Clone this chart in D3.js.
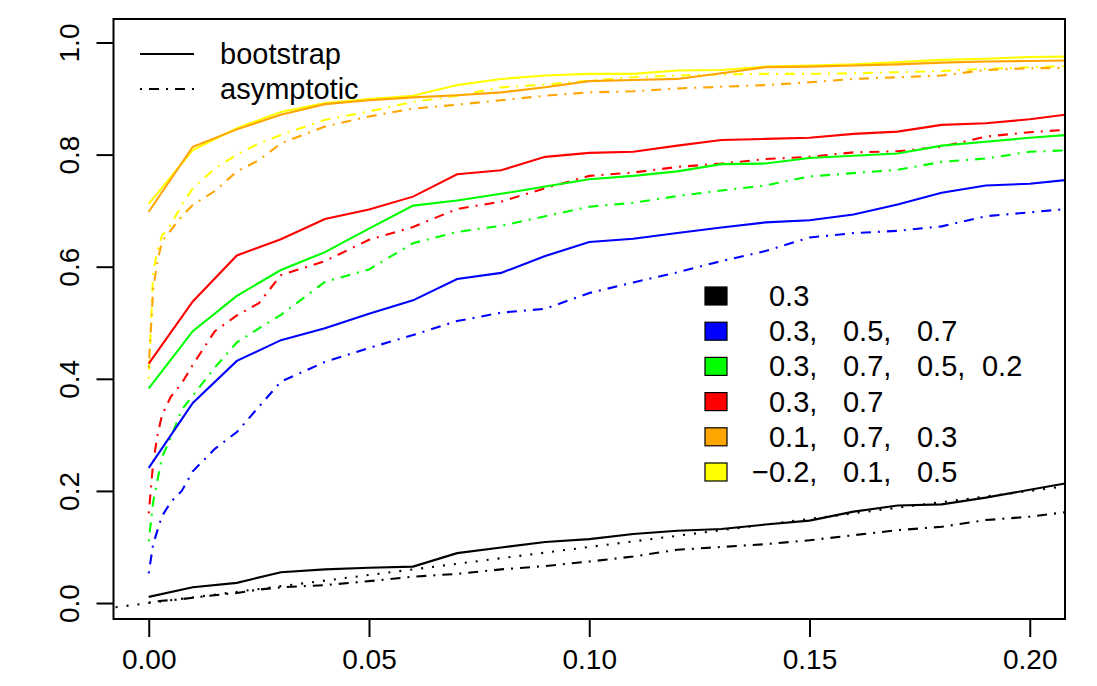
<!DOCTYPE html>
<html>
<head>
<meta charset="utf-8">
<script src="https://cdn.jsdelivr.net/npm/d3@7"></script>
<style>
  body { margin: 0; background: #fff; }
  text { font-family: "Liberation Sans", Arial, Helvetica, sans-serif; }
</style>
</head>
<body>
<div id="chart"></div>
<script>
// x grid for the bootstrap curves
const bootX = [0, 0.01, 0.02, 0.03, 0.04, 0.05, 0.06, 0.07, 0.08, 0.09, 0.10,
  0.11, 0.12, 0.13, 0.14, 0.15, 0.16, 0.17, 0.18, 0.19, 0.20, 0.21];
// finer grid for the asymptotic curves
const asymX = [0, 0.001, 0.002, 0.003, 0.005, 0.0075, 0.01, 0.015, 0.02, 0.025, 0.03,
  0.04, 0.05, 0.06, 0.07, 0.08, 0.09, 0.10, 0.11, 0.12, 0.13, 0.14, 0.15,
  0.16, 0.17, 0.18, 0.19, 0.20, 0.21];

const blackBoot  = [0.011, 0.028, 0.036, 0.055, 0.060, 0.063, 0.065, 0.089, 0.099, 0.109, 0.114, 0.123, 0.129, 0.132, 0.140, 0.147, 0.163, 0.174, 0.176, 0.188, 0.202, 0.216];
const blueBoot   = [0.241, 0.357, 0.432, 0.469, 0.490, 0.516, 0.540, 0.578, 0.589, 0.619, 0.644, 0.650, 0.660, 0.670, 0.679, 0.683, 0.693, 0.711, 0.732, 0.745, 0.748, 0.756];
const greenBoot  = [0.383, 0.485, 0.548, 0.594, 0.626, 0.668, 0.709, 0.718, 0.730, 0.743, 0.756, 0.762, 0.770, 0.783, 0.784, 0.794, 0.798, 0.802, 0.816, 0.823, 0.830, 0.836];
const redBoot    = [0.427, 0.538, 0.620, 0.649, 0.685, 0.702, 0.725, 0.765, 0.772, 0.796, 0.803, 0.805, 0.816, 0.826, 0.828, 0.830, 0.837, 0.841, 0.853, 0.856, 0.863, 0.873];
const orangeBoot = [0.698, 0.814, 0.845, 0.871, 0.890, 0.897, 0.902, 0.906, 0.911, 0.920, 0.931, 0.933, 0.935, 0.945, 0.956, 0.957, 0.959, 0.961, 0.964, 0.966, 0.967, 0.968];
const yellowBoot = [0.712, 0.808, 0.847, 0.876, 0.892, 0.899, 0.905, 0.924, 0.935, 0.941, 0.944, 0.944, 0.950, 0.951, 0.957, 0.959, 0.961, 0.965, 0.969, 0.971, 0.974, 0.975];

const blackAsym  = [0.001, 0.002, 0.003, 0.004, 0.005, 0.007, 0.0095, 0.014, 0.018, 0.024, 0.028, 0.032, 0.039, 0.047, 0.052, 0.060, 0.066, 0.074, 0.083, 0.095, 0.100, 0.105, 0.112, 0.121, 0.130, 0.136, 0.148, 0.154, 0.164];
const blueAsym   = [0.053, 0.105, 0.130, 0.155, 0.180, 0.200, 0.235, 0.275, 0.305, 0.350, 0.395, 0.430, 0.455, 0.478, 0.503, 0.518, 0.525, 0.553, 0.572, 0.590, 0.610, 0.628, 0.652, 0.660, 0.664, 0.672, 0.690, 0.697, 0.704];
const greenAsym  = [0.110, 0.180, 0.220, 0.260, 0.295, 0.345, 0.370, 0.420, 0.465, 0.490, 0.514, 0.573, 0.595, 0.642, 0.662, 0.673, 0.690, 0.707, 0.714, 0.726, 0.736, 0.745, 0.761, 0.767, 0.773, 0.787, 0.793, 0.805, 0.808];
const redAsym    = [0.160, 0.250, 0.300, 0.335, 0.368, 0.392, 0.425, 0.485, 0.513, 0.535, 0.585, 0.610, 0.648, 0.671, 0.703, 0.716, 0.740, 0.762, 0.768, 0.778, 0.784, 0.792, 0.796, 0.804, 0.806, 0.814, 0.832, 0.840, 0.845];
const orangeAsym = [0.420, 0.560, 0.610, 0.645, 0.665, 0.690, 0.710, 0.735, 0.770, 0.790, 0.820, 0.850, 0.868, 0.882, 0.889, 0.897, 0.905, 0.911, 0.913, 0.918, 0.921, 0.924, 0.929, 0.935, 0.938, 0.941, 0.951, 0.954, 0.955];
const yellowAsym = [0.400, 0.590, 0.630, 0.655, 0.675, 0.710, 0.740, 0.775, 0.800, 0.820, 0.835, 0.862, 0.877, 0.894, 0.905, 0.920, 0.925, 0.932, 0.938, 0.941, 0.943, 0.944, 0.944, 0.945, 0.947, 0.949, 0.953, 0.956, 0.958];

// reference line y = x (dotted)
const refX = [-0.01, 0.21];

const seriesColors = ["black", "blue", "#00ff00", "red", "orange", "yellow"];
const seriesLabels = [["0.3"], ["0.3", "0.5", "0.7"], ["0.3", "0.7", "0.5", "0.2"],
  ["0.3", "0.7"], ["0.1", "0.7", "0.3"], ["\u22120.2", "0.1", "0.5"]];
const bootSeries = [blackBoot, blueBoot, greenBoot, redBoot, orangeBoot, yellowBoot];
const asymSeries = [blackAsym, blueAsym, greenAsym, redAsym, orangeAsym, yellowAsym];

const xTicks = [0, 0.05, 0.10, 0.15, 0.20];
const yTicks = [0, 0.2, 0.4, 0.6, 0.8, 1.0];

const W = 1097, H = 686;
const box = {left: 113.5, top: 19, right: 1065, bottom: 619};
const fs = 28, legFs = 29;

const svg = d3.select("#chart").append("svg")
  .attr("width", W).attr("height", H);

const x = d3.scaleLinear().domain([-0.008, 0.208]).range([box.left, box.right]);
const y = d3.scaleLinear().domain([-0.0285, 1.0419]).range([box.bottom, box.top]);

svg.append("clipPath").attr("id", "plotclip")
  .append("rect")
    .attr("x", box.left).attr("y", box.top)
    .attr("width", box.right - box.left).attr("height", box.bottom - box.top);

const plot = svg.append("g").attr("clip-path", "url(#plotclip)");

const dashdot = "2,7,10,7";
const lineW = 2.1;

const lineGen = d3.line()
  .x(d => x(d[0]))
  .y(d => y(d[1]));

// draw order: yellow first so orange sits on top of it
const order = [5, 4, 3, 2, 1, 0];

order.forEach(i => {
  plot.append("path")
    .datum(asymX.map((v, j) => [v, asymSeries[i][j]]))
    .attr("fill", "none")
    .attr("stroke", seriesColors[i])
    .attr("stroke-width", lineW)
    .attr("stroke-dasharray", dashdot)
    .attr("d", lineGen);
});

// y = x dotted
plot.append("path")
  .datum(refX.map(v => [v, v]))
  .attr("fill", "none")
  .attr("stroke", "black")
  .attr("stroke-width", lineW)
  .attr("stroke-dasharray", "2,9")
  .attr("d", lineGen);

order.forEach(i => {
  plot.append("path")
    .datum(bootX.map((v, j) => [v, bootSeries[i][j]]))
    .attr("fill", "none")
    .attr("stroke", seriesColors[i])
    .attr("stroke-width", lineW)
    .attr("d", lineGen);
});

// box
svg.append("rect")
  .attr("x", box.left).attr("y", box.top)
  .attr("width", box.right - box.left).attr("height", box.bottom - box.top)
  .attr("fill", "none").attr("stroke", "black").attr("stroke-width", 2);

// x axis
const gx = svg.append("g")
  .attr("transform", `translate(0,${box.bottom})`)
  .call(d3.axisBottom(x).tickValues(xTicks).tickFormat(d3.format(".2f"))
    .tickSize(18).tickPadding(12));
gx.select(".domain").remove();
gx.selectAll(".tick line").attr("stroke-width", 2);
gx.selectAll("text").attr("font-size", fs).attr("fill", "black")
  .attr("font-family", "Liberation Sans, Arial, sans-serif");

// y axis
const gy = svg.append("g")
  .attr("transform", `translate(${box.left},0)`)
  .call(d3.axisLeft(y).tickValues(yTicks).tickFormat(d3.format(".1f"))
    .tickSize(17));
gy.select(".domain").remove();
gy.selectAll(".tick line").attr("stroke-width", 2);
gy.selectAll("text")
  .attr("font-size", fs).attr("fill", "black")
  .attr("font-family", "Liberation Sans, Arial, sans-serif")
  .attr("transform", "rotate(-90)")
  .attr("x", 0).attr("y", -35).attr("dy", 0)
  .attr("text-anchor", "middle");

// line-type legend (top left)
const ltLegend = svg.append("g");
[["bootstrap", null, 54], ["asymptotic", dashdot, 89]].forEach(([lab, dash, yy]) => {
  ltLegend.append("line")
    .attr("x1", 140).attr("x2", 194).attr("y1", yy).attr("y2", yy)
    .attr("stroke", "black").attr("stroke-width", lineW)
    .attr("stroke-dasharray", dash);
  ltLegend.append("text")
    .attr("x", 220).attr("y", yy + 10)
    .attr("font-size", legFs)
    .text(lab);
});

// colour legend
const colStarts = [769, 843, 917, 982];
const numW = 40.3;
const leg = svg.append("g");
seriesLabels.forEach((labs, i) => {
  const cy = 296 + i * 35.2;
  leg.append("rect")
    .attr("x", 705).attr("y", cy - 9)
    .attr("width", 22).attr("height", 18)
    .attr("fill", seriesColors[i]).attr("stroke", "black").attr("stroke-width", 1.2);
  labs.forEach((lab, j) => {
    const endX = colStarts[j] + numW;
    leg.append("text")
      .attr("x", endX).attr("y", cy + 10)
      .attr("text-anchor", "end")
      .attr("font-size", legFs)
      .text(lab);
    if (j < labs.length - 1) {
      leg.append("text")
        .attr("x", endX).attr("y", cy + 10)
        .attr("font-size", legFs)
        .text(",");
    }
  });
});
</script>
</body>
</html>
